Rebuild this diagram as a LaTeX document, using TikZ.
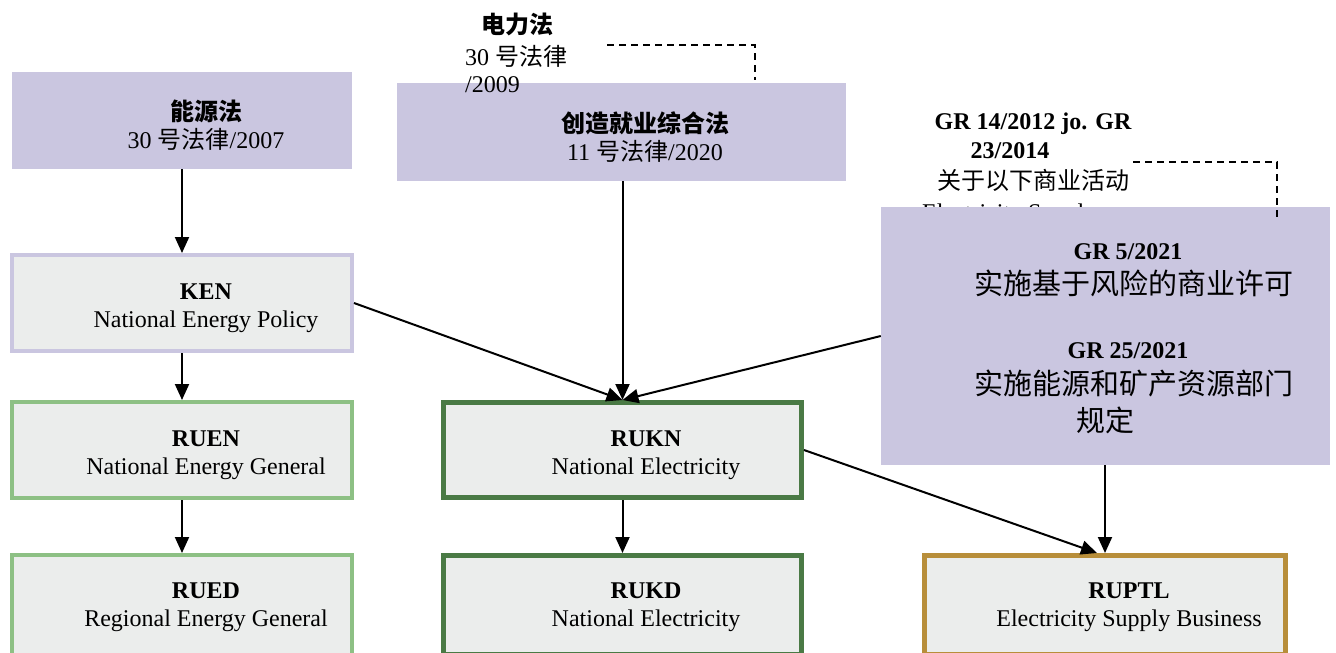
\documentclass[tikz,border=0pt]{standalone}
\usepackage{fontspec}
\setmainfont{Liberation Serif}
\newfontfamily\cjk{Noto Sans CJK SC}
\usetikzlibrary{arrows.meta,calc}
\definecolor{lav}{RGB}{202,198,224}
\definecolor{lgray}{RGB}{235,237,236}
\definecolor{lgreen}{RGB}{141,192,132}
\definecolor{dgreen}{RGB}{74,122,69}
\definecolor{gold}{RGB}{184,142,58}
\begin{document}
\begin{tikzpicture}[x=1pt,y=-1pt,
  lawbox/.style={fill=lav,draw=none,inner sep=0pt},
  rbox/.style={fill=lgray,inner sep=0pt,line width=4pt},
  lbl/.style={align=center,inner sep=0pt,font=\fontsize{24}{28}\selectfont},
  big/.style={align=center,inner sep=0pt,font=\fontsize{29}{33}\selectfont},
  arr/.style={line width=2pt,-{Triangle[length=16pt,width=14pt]}},
  dashline/.style={line width=1.6pt,dash pattern=on 7pt off 5pt}
]
\useasboundingbox (0,0) rectangle (1336,653);

% law boxes
\node[lawbox,minimum width=340pt,minimum height=97pt] (nrg) at (182,120.5) {};
\node[lawbox,minimum width=449pt,minimum height=98pt] (ck) at (621.5,132) {};

% GR 14 text (partly hidden behind GR box)
\node[lbl,font=\fontsize{24}{28}\selectfont\bfseries] (gr14a) at (1033,124) {GR 14/2012 jo. GR};
\node[lbl,font=\fontsize{24}{28}\selectfont\bfseries] (gr14b) at (1010,151) {23/2014};
\node[lbl] (gr14c) at (1033,180) {\cjk 关于以下商业活动};
\node[lbl,anchor=west] (gr14d) at (922,215) {Electricity Supply};

\node[lawbox,minimum width=449pt,minimum height=258pt] (gr) at (1105.5,336) {};

% regulation boxes
\node[rbox,draw=lav,minimum width=340pt,minimum height=96pt] (ken) at (182,303) {};
\node[rbox,draw=lgreen,minimum width=340pt,minimum height=96pt] (ruen) at (182,450) {};
\node[rbox,draw=lgreen,minimum width=340pt,minimum height=100pt] (rued) at (182,605) {};
\node[rbox,draw=dgreen,line width=5pt,minimum width=358pt,minimum height=95pt] (rukn) at (622.5,450) {};
\node[rbox,draw=dgreen,line width=5pt,minimum width=358pt,minimum height=99pt] (rukd) at (622.5,605) {};
\node[rbox,draw=gold,line width=5pt,minimum width=361pt,minimum height=99pt] (ruptl) at (1105,605) {};

% labels
\node[lbl] (nrgT) at (206,125) {{\cjk\bfseries 能源法}\\30 {\cjk 号法律}/2007};
\node[lbl] (ckT) at (645,137) {{\cjk\bfseries 创造就业综合法}\\11 {\cjk 号法律}/2020};
\node[lbl] (kenT) at (206,308) {\textbf{KEN}\\National Energy Policy};
\node[lbl] (ruenT) at (206,455) {\textbf{RUEN}\\National Energy General};
\node[lbl] (ruedT) at (206,607) {\textbf{RUED}\\Regional Energy General};
\node[lbl] (ruknT) at (646,455) {\textbf{RUKN}\\National Electricity};
\node[lbl] (rukdT) at (646,607) {\textbf{RUKD}\\National Electricity};
\node[lbl] (ruptlT) at (1129,607) {\textbf{RUPTL}\\Electricity Supply Business};

\node[lbl,font=\fontsize{24}{28}\selectfont\bfseries] (gr5) at (1128,252) {GR 5/2021};
\node[big] (gr5t) at (1134,283) {\cjk 实施基于风险的商业许可};
\node[lbl,font=\fontsize{24}{28}\selectfont\bfseries] (gr25) at (1128,351) {GR 25/2021};
\node[big] (gr25t) at (1134,383) {\cjk 实施能源和矿产资源部门};
\node[big] (gr25u) at (1105,420) {\cjk 规定};

% electricity law
\node[lbl] (elA) at (517,24) {\cjk\bfseries 电力法};
\node[lbl,anchor=west] (elB) at (465,56) {30 {\cjk 号法律}};
\node[lbl,anchor=west] (elC) at (465,85) {/2009};

% dashed connectors
\coordinate (d1s) at (607,45);
\coordinate (d1e) at (755,80);
\draw[dashline] (d1s) -| (d1e);
\coordinate (d2s) at (1133,162);
\coordinate (d2e) at (1277,220);
\draw[dashline] (d2s) -| (d2e);

% arrows
\draw[arr] (nrg.south -| ken.north) -- (ken.north);
\draw[arr] (ken.south) -- (ruen.north);
\draw[arr] (ruen.south) -- (rued.north);
\draw[arr] (ck.south -| rukn.north) -- (rukn.north);
\draw[arr] (ken.east) -- (rukn.north);
\draw[arr] (gr.west) -- (rukn.north);
\draw[arr] (rukn.south) -- (rukd.north);
\draw[arr] (rukn.east) -- ($(ruptl.north)+(-8,0)$);
\draw[arr] (gr.south -| ruptl.north) -- (ruptl.north);
\end{tikzpicture}
\end{document}
